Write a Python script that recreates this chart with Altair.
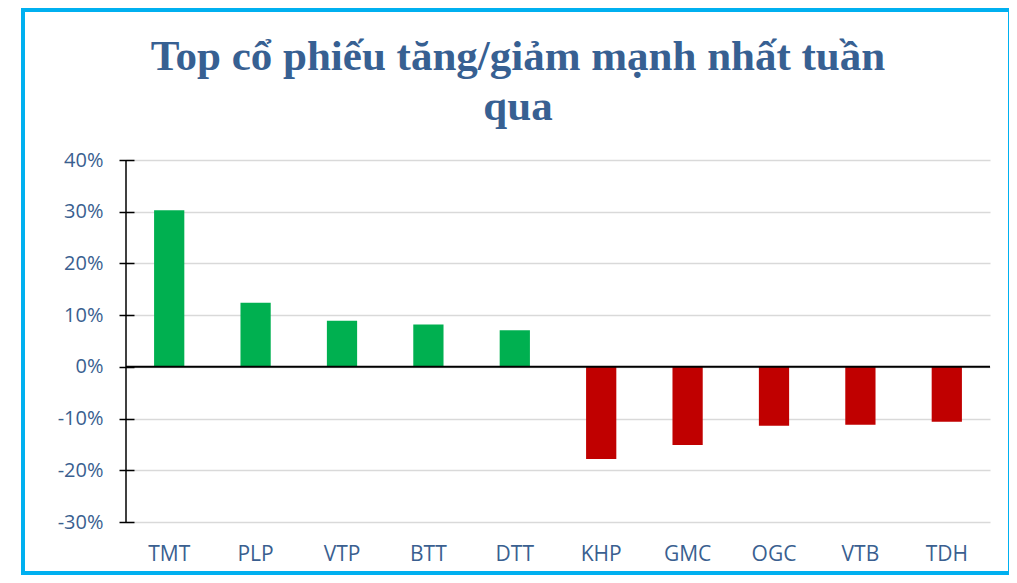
import altair as alt
import pandas as pd

tickers = ["TMT", "PLP", "VTP", "BTT", "DTT", "KHP", "GMC", "OGC", "VTB", "TDH"]
changes = [0.303, 0.124, 0.089, 0.082, 0.071, -0.178, -0.151, -0.114, -0.112, -0.106]
y_ticks = [-0.3, -0.2, -0.1, 0.0, 0.1, 0.2, 0.3, 0.4]
title_lines = ["Top cổ phiếu tăng/giảm mạnh nhất tuần", "qua"]

GREEN = "#00B050"
RED = "#C00000"
LABEL_COLOR = "#3A5F90"
W, H = 864, 362

df = pd.DataFrame({"ticker": tickers, "change": changes})

label_expr = "(datum.value < -0.0001 ? '-' : '') + format(abs(datum.value) * 100, '.0f') + '%'"

bars = alt.Chart(df).mark_bar().encode(
    x=alt.X(
        "ticker:N",
        sort=tickers,
        scale=alt.Scale(paddingInner=0.65, paddingOuter=0.325),
        axis=alt.Axis(
            title=None, labelAngle=0, domain=False, ticks=False, labelPadding=21,
            labelFont="Open Sans", labelFontSize=21, labelColor=LABEL_COLOR,
        ),
    ),
    y=alt.Y(
        "change:Q",
        scale=alt.Scale(domain=[-0.3, 0.4], nice=False, zero=False),
        axis=alt.Axis(
            title=None, values=y_ticks, labelExpr=label_expr,
            offset=-8, tickSize=15, tickColor="#000000", tickWidth=1.5,
            domain=False, grid=True, gridColor="#D9D9D9", gridWidth=1.5,
            labelPadding=16, labelFont="Open Sans", labelFontSize=20,
            labelColor=LABEL_COLOR,
        ),
    ),
    color=alt.condition(alt.datum.change > 0, alt.value(GREEN), alt.value(RED)),
)

zero_line = alt.Chart(pd.DataFrame({"change": [0.0]})).mark_rule(
    color="#000000", strokeWidth=2
).encode(y="change:Q")

y_domain = alt.Chart(pd.DataFrame({"v": [0.0]})).mark_rule(
    color="#000000", strokeWidth=1.5
).encode(x=alt.value(0), y=alt.value(0), y2=alt.value(H))

frame = alt.Chart(pd.DataFrame({"v": [0]})).mark_rect(
    filled=False, stroke="#00B0F0", strokeWidth=4, clip=False
).encode(x=alt.value(-103), x2=alt.value(884), y=alt.value(-150), y2=alt.value(413))

chart = alt.layer(bars, zero_line, y_domain, frame).properties(
    width=W,
    height=H,
    autosize=alt.AutoSizeParams(type="none"),
    padding={"left": 118, "top": 152, "right": 19, "bottom": 53},
    title=alt.TitleParams(
        title_lines,
        font="Liberation Serif",
        fontSize=43,
        fontWeight="bold",
        color="#376092",
        anchor="middle",
        frame="group",
        dx=-40,
        offset=-121,
        lineHeight=50,
    ),
).configure(background="#FFFFFF").configure_view(strokeWidth=0)

chart.save("out.html", embed_options={"renderer": "svg", "actions": False})
